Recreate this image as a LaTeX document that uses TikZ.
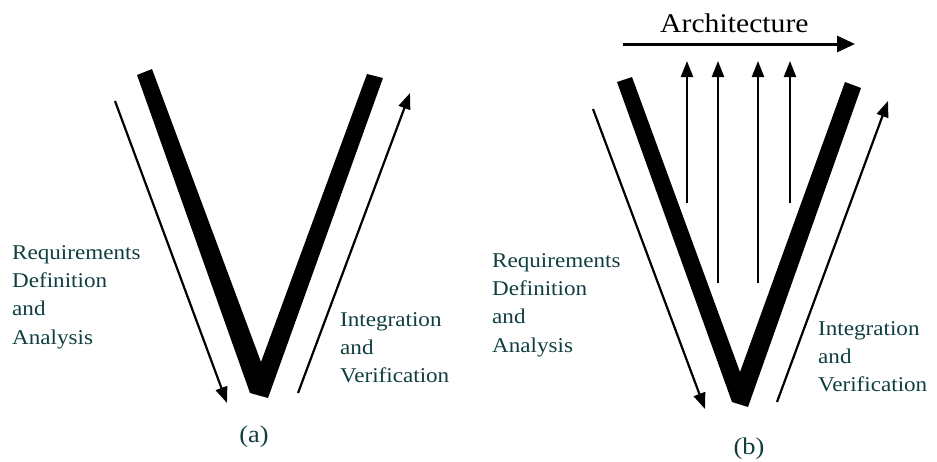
\documentclass[tikz,border=0pt]{standalone}
\usepackage{fontspec}
\setmainfont{Liberation Serif}[FakeStretch=1.1]
\usepackage{tikz}
\usetikzlibrary{positioning,arrows.meta}
\definecolor{labelteal}{RGB}{16,62,64}

\begin{document}
\begin{tikzpicture}[x=1pt, y=-1pt,
  every node/.style={inner sep=0pt, text=labelteal},
  phase/.style={align=left, anchor=north west, font=\fontsize{21}{28.3}\selectfont},
  vbar/.style={fill=black},
  flow/.style={line width=2.2pt, -{Triangle[length=16pt, width=12pt]}}]
  \useasboundingbox (0,0) rectangle (937,461);

  % (a) plain V
  \fill[vbar] (137,75) -- (152,69) -- (261,362) -- (367,74) -- (383,78)
    -- (268,398) -- (250,393) -- cycle;
  \coordinate (reqAs) at (115,101);
  \coordinate (reqAe) at (227,403);
  \coordinate (intAs) at (298,393);
  \coordinate (intAe) at (410,93);
  \draw[flow] (reqAs) -- (reqAe);
  \draw[flow] (intAs) -- (intAe);
  \node[phase] (reqA) at (12,245) {Requirements\\Definition\\and\\Analysis};
  \node[phase] (intA) at (340,312) {Integration\\and\\Verification};
  \node[font=\fontsize{24}{26}\selectfont] (capA) at (254,437) {(a)};

  % (b) V with architecture
  \fill[vbar] (617,82) -- (632,77) -- (740,372) -- (845,82) -- (861,88)
    -- (748,407) -- (732,402) -- cycle;
  \coordinate (reqBs) at (593,109);
  \coordinate (reqBe) at (705,409);
  \coordinate (intBs) at (777,402);
  \coordinate (intBe) at (888,101);
  \draw[flow] (reqBs) -- (reqBe);
  \draw[flow] (intBs) -- (intBe);
  \foreach \x/\y [count=\i] in {687/203, 718/283, 758/283, 790/203} {
    \coordinate (up\i s) at (\x,\y);
    \coordinate (up\i e) at (\x,61);
    \draw[flow] (up\i s) -- (up\i e);
  }
  \coordinate (archS) at (623,44);
  \coordinate (archE) at (855,44);
  \draw[line width=3pt, -{Triangle[length=18pt, width=16pt]}] (archS) -- (archE);
  \node[anchor=base west, text=black, font=\fontsize{27}{30}\selectfont] (arch) at (660,32) {Architecture};
  \node[phase] (reqB) at (492,253) {Requirements\\Definition\\and\\Analysis};
  \node[phase] (intB) at (818,321) {Integration\\and\\Verification};
  \node[font=\fontsize{24}{26}\selectfont] (capB) at (749,449) {(b)};
\end{tikzpicture}
\end{document}
